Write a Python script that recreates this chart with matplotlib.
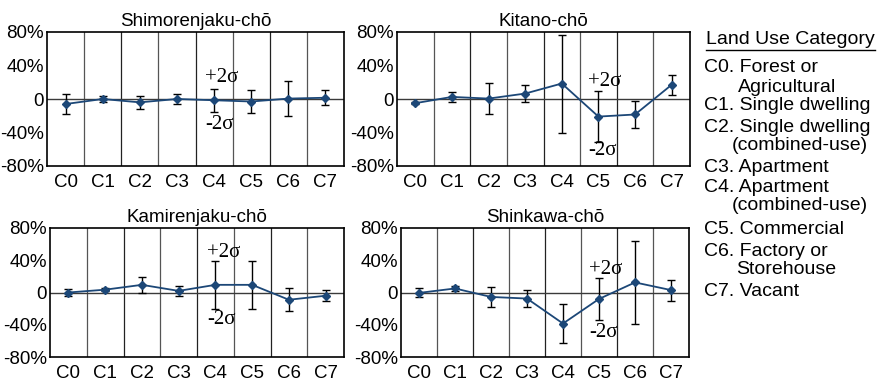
import numpy as np
import matplotlib
matplotlib.use("Agg")
import matplotlib.pyplot as plt
from matplotlib.lines import Line2D

# categories and per-town means / 2-sigma half widths (%)
categories = ["C0", "C1", "C2", "C3", "C4", "C5", "C6", "C7"]

towns = ["Shimorenjaku-chō", "Kitano-chō", "Kamirenjaku-chō", "Shinkawa-chō"]

shimo_mean = [-6, 0, -4, 0, -1.5, -3, 0.5, 1.5]
shimo_err = [12.5, 3, 7.5, 5.5, 14, 13.5, 20.5, 9]

kitano_mean = [-5, 2.5, 0.5, 6.5, 18.5, -21, -18.5, 17]
kitano_err = [1.5, 6, 19, 10, 58.5, 30, 16, 12]

kami_mean = [0, 3.5, 9.5, 2, 9.5, 9.5, -9, -4]
kami_err = [4.5, 2, 10, 6, 30, 29.5, 14.5, 7]

shinkawa_mean = [-0.5, 5, -5.5, -7.5, -38.5, -8, 12.5, 3]
shinkawa_err = [5.5, 3.5, 12, 11, 24, 25.5, 51, 13]

means = [shimo_mean, kitano_mean, kami_mean, shinkawa_mean]
errs = [shimo_err, kitano_err, kami_err, shinkawa_err]

# where the +2σ / -2σ notes go (x, y_plus, y_minus)
sigma_pos = [(3.75, 26, -30), (4.72, 21, -61), (3.78, 49, -34), (4.73, 29, -50)]

legend_lines = [
    ("C0. Forest or", 0), ("Agricultural", 1),
    ("C1. Single dwelling", 0),
    ("C2. Single dwelling", 0), ("(combined-use)", 2),
    ("C3. Apartment", 0),
    ("C4. Apartment", 0), ("(combined-use)", 2),
    ("C5. Commercial", 0),
    ("C6. Factory or", 0), ("Storehouse", 3),
    ("C7. Vacant", 0),
]
legend_y = [68, 87, 105, 127, 145, 167, 188, 206, 229, 252, 269, 292]

plt.rcParams["font.family"] = ["Liberation Sans", "DejaVu Sans"]
serif = ["Liberation Serif", "DejaVu Serif"]

W, H = 882, 383
fig = plt.figure(figsize=(W / 100, H / 100), dpi=100)

# axes boxes in pixels: left, top, right, bottom
boxes = [(47, 32, 344, 166), (397, 32, 690, 166),
         (50, 228, 344, 357), (401, 228, 689, 357)]

line_color = "#1c4777"
x = np.arange(len(categories))

for i in range(4):
    l, t, r, b = boxes[i]
    ax = fig.add_axes([l / W, (H - b) / H, (r - l) / W, (b - t) / H])
    for k, s in enumerate(np.arange(0.5, 7.5, 1)):
        ax.axvline(s, color="#222222" if k % 2 else "#555555", lw=0.9, zorder=1)
    ax.axhline(0, color="#3a3a3a", lw=1.0, zorder=1)
    ax.errorbar(x, means[i], yerr=errs[i], fmt="none", ecolor="black",
                elinewidth=1.0, capsize=3, capthick=1.0, zorder=2)
    ax.plot(x, means[i], color=line_color, lw=1.3, marker="D",
            markersize=4.5, zorder=3)
    ax.set_xlim(-0.5, 7.5)
    ax.set_ylim(-80, 80)
    ax.set_xticks(x)
    ax.set_xticklabels(categories, fontsize=13.5)
    ax.set_yticks([-80, -40, 0, 40, 80])
    ax.set_yticklabels(["-80%", "-40%", "0", "40%", "80%"], fontsize=13.5)
    ax.tick_params(length=0, pad=2)
    ax.tick_params(axis="x", pad=6)
    for sp in ax.spines.values():
        sp.set_linewidth(1.2)
    ax.set_title(towns[i], fontsize=13.5, pad=4)
    sx, yp, ym = sigma_pos[i]
    ax.text(sx, yp, "+2σ", family=serif, fontsize=15, va="center", ha="left")
    ax.text(sx, ym, "-2σ", family=serif, fontsize=15, va="center", ha="left")

# category legend on the right
fig.text(706 / W, 1 - 40 / H, "Land Use Category", fontsize=14,
         va="center", ha="left")
fig.add_artist(Line2D([706 / W, 875 / W], [1 - 50 / H, 1 - 50 / H],
                      color="black", lw=1.0))
indents = {0: 704, 1: 738, 2: 732, 3: 736}
for (txt, ind), y in zip(legend_lines, legend_y):
    fig.text(indents[ind] / W, 1 - y / H, txt, fontsize=14,
             va="center", ha="left")

fig.savefig("out.png", dpi=100)
